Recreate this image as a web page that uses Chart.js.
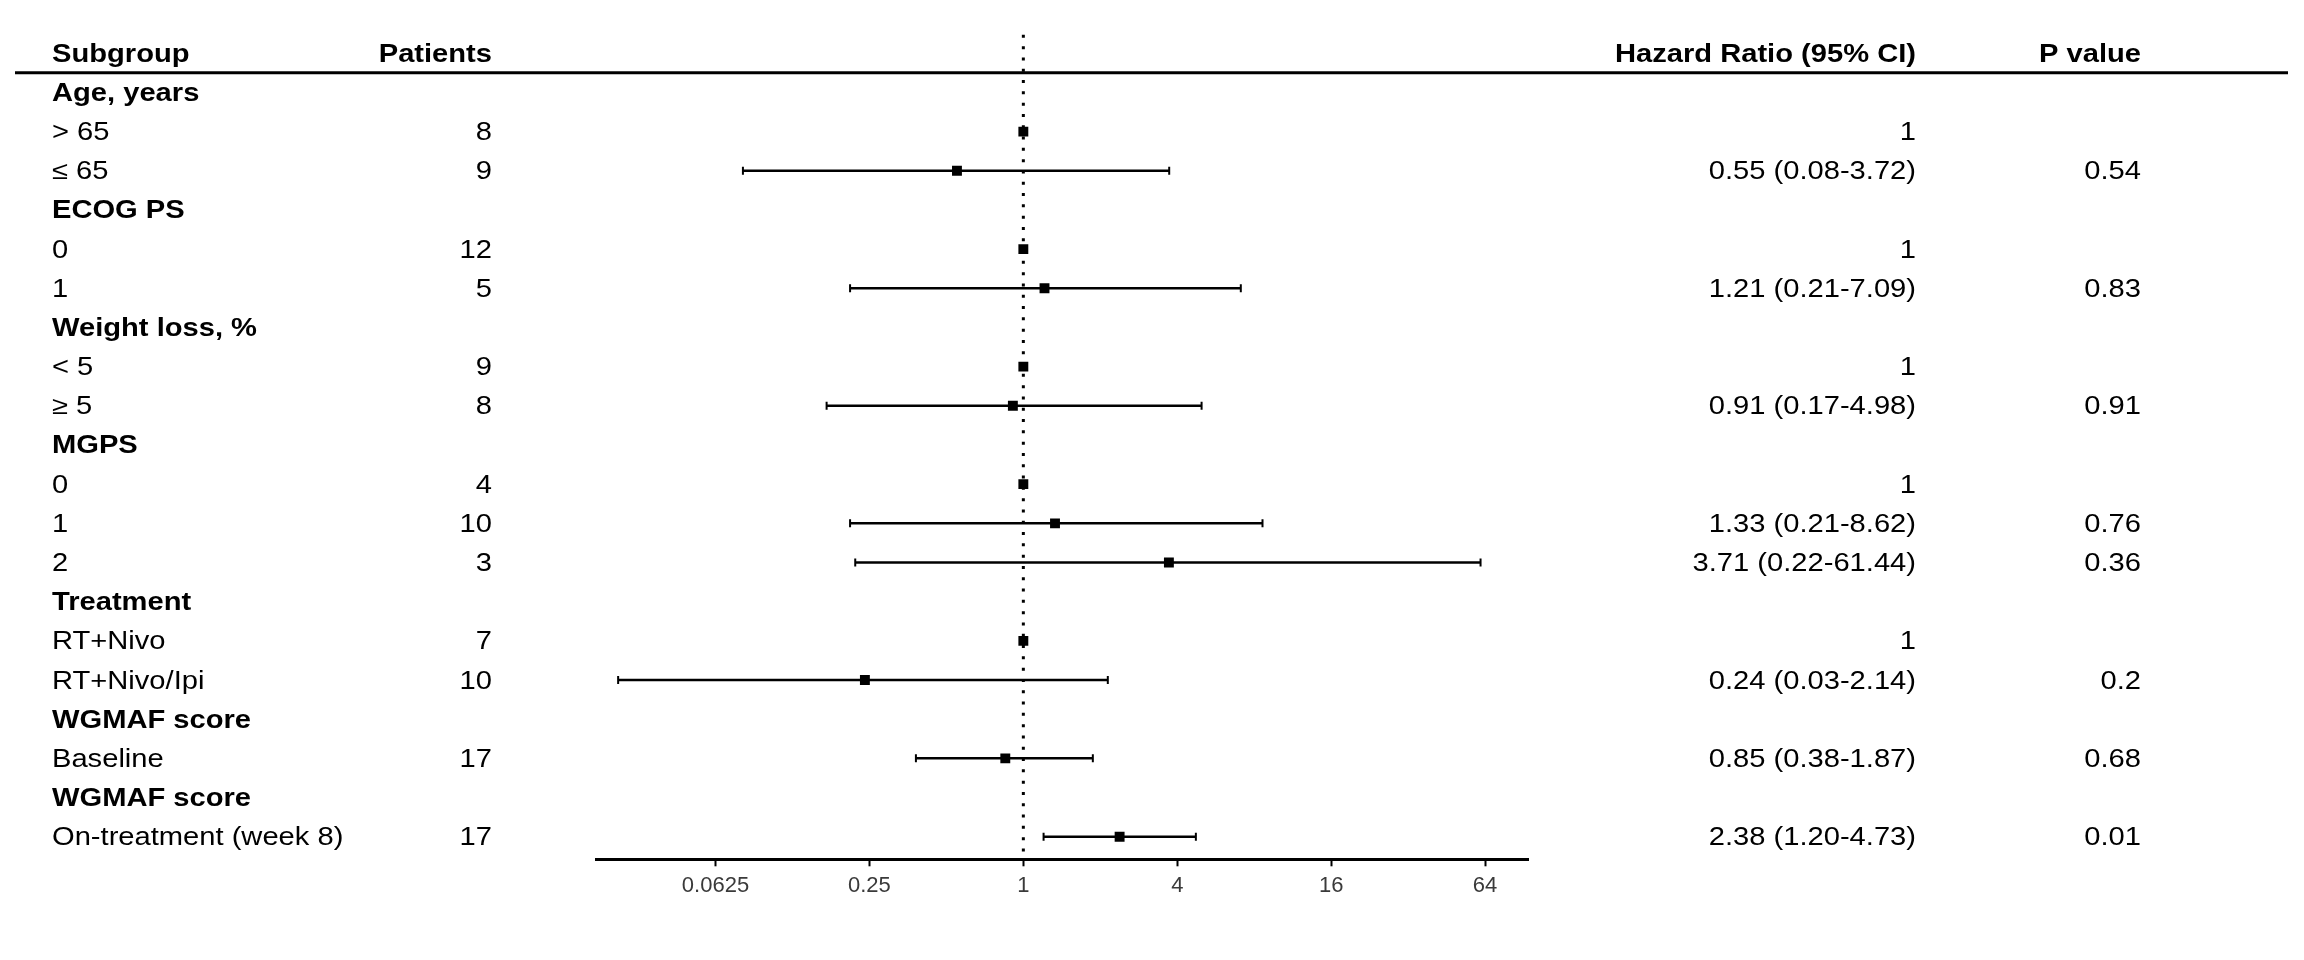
<!DOCTYPE html>
<html>
<head>
<meta charset="utf-8">
<script src="https://cdn.jsdelivr.net/npm/chart.js@4.4.1/dist/chart.umd.min.js"></script>
<style>
  html, body { margin: 0; padding: 0; background: #fff; }
  canvas { display: block; }
</style>
</head>
<body>
<canvas id="forest" width="2304" height="960"></canvas>
<script>
// Table rows, top to bottom
const rowLabels = ['Age, years', '> 65', '≤ 65', 'ECOG PS', '0', '1', 'Weight loss, %', '< 5', '≥ 5',
  'MGPS', '0', '1', '2', 'Treatment', 'RT+Nivo', 'RT+Nivo/Ipi', 'WGMAF score', 'Baseline',
  'WGMAF score', 'On-treatment (week 8)'];
const isGroup = [true, false, false, true, false, false, true, false, false,
  true, false, false, false, true, false, false, true, false, true, false];
const patients = ['', '8', '9', '', '12', '5', '', '9', '8', '', '4', '10', '3', '', '7', '10', '', '17', '', '17'];
const hazardRatio = [null, 1, 0.55, null, 1, 1.21, null, 1, 0.91, null, 1, 1.33, 3.71, null, 1, 0.24, null, 0.85, null, 2.38];
const ciLower = [null, null, 0.08, null, null, 0.21, null, null, 0.17, null, null, 0.21, 0.22, null, null, 0.026, null, 0.38, null, 1.20];
const ciUpper = [null, null, 3.72, null, null, 7.09, null, null, 4.98, null, null, 8.62, 61.44, null, null, 2.14, null, 1.87, null, 4.73];
const pValues = ['', '', '0.54', '', '', '0.83', '', '', '0.91', '', '', '0.76', '0.36', '', '', '0.2', '', '0.68', '', '0.01'];
const headers = ['Subgroup', 'Patients', 'Hazard Ratio (95% CI)', 'P value'];
const xTicks = [0.0625, 0.25, 1, 4, 16, 64];

const FONT = '"Liberation Sans", Arial, Helvetica, sans-serif';

function hrLabel(i) {
  if (hazardRatio[i] == null) return '';
  if (ciLower[i] == null) return String(hazardRatio[i]);
  return `${hazardRatio[i].toFixed(2)} (${ciLower[i].toFixed(2)}-${ciUpper[i].toFixed(2)})`;
}

function put(ctx, text, x, y, align, bold) {
  if (!text) return;
  ctx.save();
  ctx.font = (bold ? 'bold ' : '') + '25px ' + FONT;
  ctx.textAlign = align;
  ctx.textBaseline = 'alphabetic';
  ctx.translate(x, y + 8.5);
  ctx.scale(1.165, 1); // source text is stretched wide
  ctx.fillText(text, 0, 0);
  ctx.restore();
}

// draws the text columns beside the plot
const tableText = {
  id: 'tableText',
  afterDraw(chart) {
    const ctx = chart.ctx;
    const ys = chart.scales.y;
    ctx.save();
    ctx.fillStyle = '#000';
    ctx.strokeStyle = '#000';
    ctx.lineWidth = 3;
    const ly = ys.getPixelForValue(-0.5);
    ctx.beginPath();
    ctx.moveTo(15, ly);
    ctx.lineTo(2288, ly);
    ctx.stroke();

    const hy = ys.getPixelForValue(-1);
    put(ctx, headers[0], 52, hy, 'left', true);
    put(ctx, headers[1], 492, hy, 'right', true);
    put(ctx, headers[2], 1916, hy, 'right', true);
    put(ctx, headers[3], 2141, hy, 'right', true);

    rowLabels.forEach((lab, i) => {
      const y = ys.getPixelForValue(i);
      put(ctx, lab, 52, y, 'left', isGroup[i]);
      put(ctx, patients[i], 492, y, 'right', false);
      put(ctx, hrLabel(i), 1916, y, 'right', false);
      put(ctx, pValues[i], 2141, y, 'right', false);
    });
    ctx.restore();
  }
};

const datasets = [];

// estimates
datasets.push({
  type: 'scatter',
  order: 0,
  data: hazardRatio.map((v, i) => v == null ? null : { x: v, y: i }).filter(Boolean),
  pointStyle: 'rect',
  pointRadius: 7,
  pointBorderWidth: 0,
  pointBackgroundColor: '#000'
});

// confidence intervals with end caps
hazardRatio.forEach((v, i) => {
  if (ciLower[i] == null) return;
  datasets.push({
    type: 'line',
    order: 1,
    data: [{ x: ciLower[i], y: i }, { x: ciUpper[i], y: i }],
    borderColor: '#000',
    borderWidth: 2.5,
    pointStyle: 'line',
    rotation: 90,
    pointRadius: 4,
    pointBorderWidth: 2,
    pointBorderColor: '#000'
  });
});

// reference line at HR = 1
datasets.push({
  type: 'line',
  order: 2,
  data: [{ x: 1, y: -1.47 }, { x: 1, y: 19.577 }],
  borderColor: '#000',
  borderWidth: 3,
  borderDash: [3, 8.3],
  pointRadius: 0
});

new Chart(document.getElementById('forest'), {
  data: { datasets },
  options: {
    responsive: false,
    animation: false,
    events: [],
    layout: { padding: { left: 596, right: 776, top: 30, bottom: 0 } },
    plugins: { legend: { display: false }, tooltip: { enabled: false } },
    scales: {
      x: {
        type: 'logarithmic',
        min: 0.0213,
        max: 94.2,
        afterBuildTicks: (s) => { s.ticks = xTicks.map(v => ({ value: v })); },
        afterFit: (s) => { s.height = 100.7; },
        grid: {
          drawOnChartArea: false,
          drawTicks: true,
          tickLength: 7,
          tickWidth: 2,
          tickColor: '#000'
        },
        border: { display: true, color: '#000', width: 3 },
        ticks: {
          autoSkip: false,
          maxRotation: 0,
          padding: 6,
          color: '#3a3a3a',
          font: { family: FONT, size: 22 },
          callback: (v) => String(v)
        }
      },
      y: {
        type: 'linear',
        reverse: true,
        min: -1.594,
        max: 19.577,
        display: false
      }
    }
  },
  plugins: [tableText]
});
</script>
</body>
</html>
